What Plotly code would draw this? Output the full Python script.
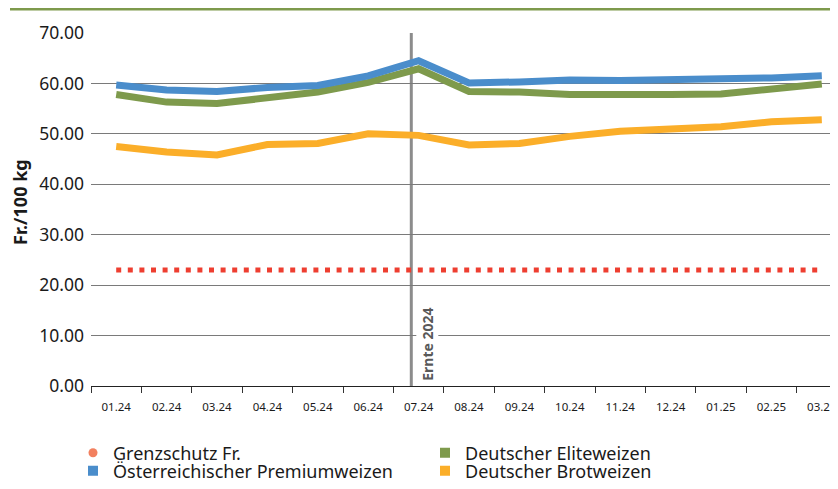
import plotly.graph_objects as go

months = ["01.24", "02.24", "03.24", "04.24", "05.24", "06.24", "07.24", "08.24",
          "09.24", "10.24", "11.24", "12.24", "01.25", "02.25", "03.25"]
grenzschutz = [23.0] * 15
oesterreich = [59.7, 58.7, 58.4, 59.2, 59.6, 61.5, 64.5, 60.1, 60.3, 60.7, 60.6, 60.7, 60.8, 61.1, 61.5]
elite = [57.8, 56.3, 56.0, 57.2, 58.3, 60.2, 62.9, 58.4, 58.3, 57.8, 57.7, 57.8, 57.9, 59.0, 59.9]
brot = [47.5, 46.4, 45.8, 47.9, 48.1, 50.0, 49.7, 47.8, 48.1, 49.5, 50.5, 50.9, 51.4, 52.4, 52.8]
y_ticks = [0, 10, 20, 30, 40, 50, 60, 70]
y_ticktext = ["%.2f" % v for v in y_ticks]

C_RED = "#EE3E30"
C_RED_LEG = "#F2805F"
C_BLUE = "#4A8DCB"
C_GREEN = "#7E9A4C"
C_ORANGE = "#FBAE29"
FONT = "Noto Sans"

# page body has an 8px margin, so the figure is sized to the remaining window
W, H = 830, 481
L, R, T, B = 83, 0, 25, 103
PW, PH = W - L - R, H - T - B

fig = go.Figure()
fig.add_trace(go.Scatter(x=months, y=grenzschutz, mode="lines", showlegend=False,
                         line=dict(color=C_RED, width=5, dash="5px,6.6px")))
fig.add_trace(go.Scatter(x=months, y=brot, mode="lines", showlegend=False,
                         line=dict(color=C_ORANGE, width=7)))
fig.add_trace(go.Scatter(x=months, y=elite, mode="lines", showlegend=False,
                         line=dict(color=C_GREEN, width=7)))
fig.add_trace(go.Scatter(x=months, y=oesterreich, mode="lines", showlegend=False,
                         line=dict(color=C_BLUE, width=7)))

# legend entries: each in its own legend so the 2x2 grid can be placed exactly
legend_items = [("Grenzschutz Fr.", C_RED_LEG, "circle", 65, 445),
                ("Deutscher Eliteweizen", C_GREEN, "square", 417, 445),
                ("Österreichischer Premiumweizen", C_BLUE, "square", 65, 463),
                ("Deutscher Brotweizen", C_ORANGE, "square", 417, 463)]
legend_layout = {}
for i, (name, col, sym, lx, ly) in enumerate(legend_items):
    key = "legend" if i == 0 else "legend%d" % (i + 1)
    fig.add_trace(go.Scatter(x=[None], y=[None], mode="markers", name=name, legend=key,
                             marker=dict(color=col, symbol=sym, size=10 if sym == "square" else 9)))
    legend_layout[key] = dict(xref="container", yref="container", x=lx / W, y=1 - ly / H,
                              xanchor="left", yanchor="middle",
                              font=dict(size=18, family=FONT, color="#1a1a1a"),
                              bgcolor="rgba(0,0,0,0)", itemwidth=30)

fig.add_shape(type="line", xref="x", yref="y", x0=5.855, x1=5.855, y0=0, y1=70,
              line=dict(color="#8C8C8C", width=3), layer="below")
fig.add_annotation(x=5.855, y=0.7, xref="x", yref="y", text="<b>Ernte 2024</b>", textangle=-90,
                   xanchor="left", yanchor="bottom", xshift=5, showarrow=False, bgcolor="white",
                   font=dict(family=FONT, size=14, color="#595959"), borderpad=1)

# y axis title
fig.add_annotation(xref="paper", yref="paper", x=(12 - L) / PW, y=1 - (194 - T) / PH,
                   text="<b>Fr./100 kg</b>", textangle=-90, showarrow=False,
                   xanchor="center", yanchor="middle",
                   font=dict(family=FONT, size=18, color="#1a1a1a"))

# header decoration
hy = 1 + (T - 1) / PH
fig.add_shape(type="line", xref="paper", yref="paper", x0=(2 - L) / PW, x1=1, y0=hy, y1=hy,
              line=dict(color=C_GREEN, width=3))

fig.update_layout(
    width=W, height=H,
    margin=dict(l=L, r=R, t=T, b=B, autoexpand=False),
    paper_bgcolor="white", plot_bgcolor="white",
    font=dict(family=FONT, size=13, color="#1a1a1a"),
    xaxis=dict(type="category", range=[-0.5, -0.5 + PW / 50.4], tickson="boundaries",
               ticks="outside", ticklen=6, tickcolor="#333", showgrid=False,
               showline=True, linecolor="#222", linewidth=1, automargin=False,
               ticklabelstandoff=10, ticklabeloverflow="allow",
               tickfont=dict(size=11.5), fixedrange=True),
    yaxis=dict(range=[0, 70], tickvals=y_ticks, ticktext=y_ticktext, showgrid=True,
               gridcolor="#7a7a7a", gridwidth=1, zeroline=False, ticks="", ticklabelstandoff=6,
               tickfont=dict(size=17.5), automargin=False, fixedrange=True),
    showlegend=True,
    **legend_layout,
)
fig.write_html("out.html")
